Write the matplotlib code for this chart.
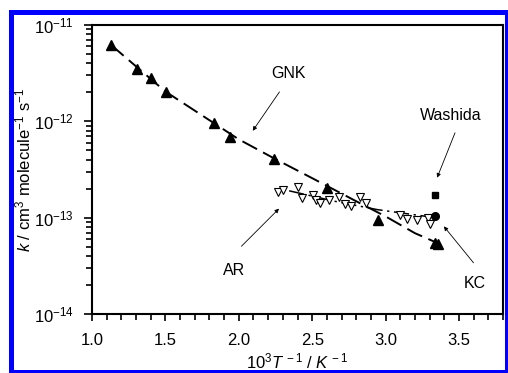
import numpy as np
import matplotlib
matplotlib.use('Agg')
import matplotlib.pyplot as plt
from matplotlib.patches import Rectangle
from matplotlib.ticker import MultipleLocator, LogLocator, FixedLocator, FixedFormatter, NullFormatter

plt.rcParams['font.family'] = ['Liberation Sans', 'DejaVu Sans']
plt.rcParams['mathtext.fontset'] = 'custom'
plt.rcParams['mathtext.rm'] = 'Liberation Sans'
plt.rcParams['mathtext.it'] = 'Liberation Sans:italic'
plt.rcParams['mathtext.bf'] = 'Liberation Sans:bold'

# GNK (filled triangles)
gnk_x = [1.128, 1.304, 1.405, 1.507, 1.831, 1.939, 2.243, 2.604, 2.946, 3.338, 3.358]
gnk_k = [6.2e-12, 3.5e-12, 2.83e-12, 2.02e-12, 9.6e-13, 6.9e-13, 4.1e-13, 2.03e-13, 9.5e-14, 5.5e-14, 5.3e-14]
# GNK fit curve (dashed)
gnk_fit_x = [1.13, 1.5, 2.0, 2.25, 2.5, 2.8, 3.0, 3.2, 3.36]
gnk_fit_k = [6.2e-12, 2.04e-12, 6.5e-13, 4.05e-13, 2.57e-13, 1.48e-13, 1.03e-13, 6.9e-14, 5.4e-14]

# AR (open down triangles)
ar_x = [2.266, 2.304, 2.401, 2.428, 2.507, 2.527, 2.552, 2.615, 2.682, 2.725, 2.761,
        2.829, 2.867, 3.097, 3.144, 3.216, 3.289, 3.302]
ar_k = [1.85e-13, 1.95e-13, 2.08e-13, 1.60e-13, 1.73e-13, 1.54e-13, 1.42e-13, 1.54e-13,
        1.62e-13, 1.39e-13, 1.31e-13, 1.62e-13, 1.42e-13, 1.06e-13, 9.8e-14, 9.4e-14,
        9.9e-14, 8.5e-14]
# AR fit (dash-dot)
ar_fit_x = [2.343, 2.653, 2.946, 3.34]
ar_fit_k = [1.9e-13, 1.48e-13, 1.21e-13, 1.0e-13]

# single points
washida_x, washida_k = [3.340], [1.70e-13]
kc_x, kc_k = [3.340], [1.05e-13]

xticks = [1.0, 1.5, 2.0, 2.5, 3.0, 3.5]
yticks = [1e-14, 1e-13, 1e-12, 1e-11]
ytick_labels = [r'10$^{-14}$', r'10$^{-13}$', r'10$^{-12}$', r'10$^{-11}$']

# annotations: label, text position, arrow start, arrow tip
notes = [
    ('GNK', (2.338, 3.10e-12), (2.277, 2.02e-12), (2.095, 7.98e-13)),
    ('Washida', (3.446, 1.14e-12), (3.473, 7.60e-13), (3.351, 2.60e-13)),
    ('AR', (1.970, 2.86e-14), (2.018, 5.05e-14), (2.274, 1.24e-13)),
    ('KC', (3.608, 2.09e-14), (3.599, 3.40e-14), (3.397, 8.12e-14)),
]

fig = plt.figure(figsize=(5.08, 3.73), dpi=100)
ax = fig.add_axes([0.1811, 0.1582, 0.8091, 0.7748])

ax.plot(gnk_fit_x, gnk_fit_k, color='black', lw=1.4, ls=(0, (8.5, 3.5)))
ax.plot(ar_fit_x, ar_fit_k, color='black', lw=1.1, ls=(0, (10, 3, 1.5, 3)))
ax.plot(gnk_x, gnk_k, '^', color='black', ms=6.5, ls='none')
ax.plot(ar_x, ar_k, 'v', mfc='white', mec='black', mew=0.8, ms=5.5, ls='none')
ax.plot(washida_x, washida_k, 's', color='black', ms=4.5, ls='none')
ax.plot(kc_x, kc_k, 'o', color='black', ms=5.5, ls='none')

for label, tpos, start, tip in notes:
    ax.text(tpos[0], tpos[1], label, fontsize=11.5, ha='center', va='center')
    ax.annotate('', xy=tip, xytext=start,
                arrowprops=dict(arrowstyle='-|>', lw=0.6, color='black',
                                mutation_scale=6, shrinkA=0, shrinkB=0))

ax.set_yscale('log')
ax.set_xlim(1.0, 3.8)
ax.set_ylim(1e-14, 1e-11)
ax.xaxis.set_major_locator(FixedLocator(xticks))
ax.set_xticklabels(['%.1f' % v for v in xticks])
ax.xaxis.set_minor_locator(MultipleLocator(0.1))
ax.yaxis.set_major_locator(FixedLocator(yticks))
ax.yaxis.set_major_formatter(FixedFormatter(ytick_labels))
ax.yaxis.set_minor_locator(LogLocator(base=10, subs=np.arange(2, 10)))
ax.yaxis.set_minor_formatter(NullFormatter())

ax.tick_params(which='both', direction='out', top=False, right=False, width=1.2)
ax.tick_params(axis='x', which='major', length=5, labelsize=12, pad=9)
ax.tick_params(axis='x', which='minor', length=4)
ax.tick_params(axis='y', which='major', length=6, labelsize=12, pad=7)
ax.tick_params(axis='y', which='minor', length=4)
for s in ax.spines.values():
    s.set_linewidth(1.5)

ax.set_ylabel(r'$k$ / cm$^3$ molecule$^{-1}$ s$^{-1}$', fontsize=12)
ax.yaxis.set_label_coords(-0.1436, 0.5)
ax.set_xlabel(r'10$^3$$T^{\,-1}$ / $K^{\,-1}$', fontsize=12)
ax.xaxis.set_label_coords(0.5, -0.13)

fig.add_artist(Rectangle((0.0207, 0.004), 0.978, 0.9638, transform=fig.transFigure,
                         fill=False, ec='#0000ff', lw=3.6))

fig.savefig('out.png', dpi=100)
